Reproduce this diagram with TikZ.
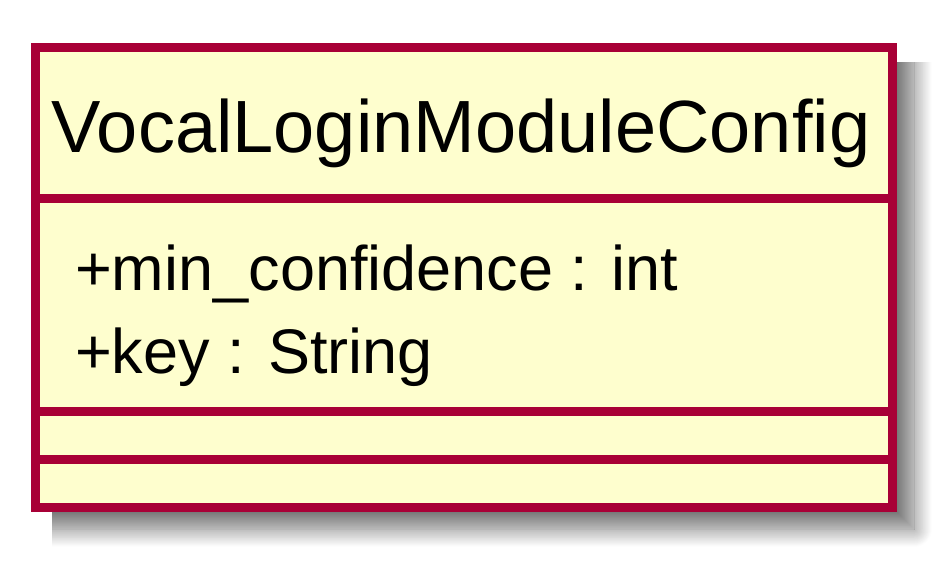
\documentclass[tikz,border=0pt]{standalone}
\usepackage{fontspec}
\setmainfont{Liberation Sans}
\usetikzlibrary{shadows.blur}
\definecolor{umlborder}{HTML}{A80036}
\definecolor{umlfill}{HTML}{FEFECE}
\tikzset{
  classbox/.style={draw=umlborder, line width=9pt, fill=umlfill},
  sepline/.style={draw=umlborder, line width=9pt},
  boxshadow/.style={blur shadow={shadow xshift=0pt, shadow yshift=0pt,
      shadow blur radius=18pt, shadow blur steps=20, shadow opacity=55}},
  titletext/.style={font=\fontsize{74}{80}\selectfont, anchor=base, inner sep=0pt},
  attrtext/.style={font=\fontsize{63}{70}\selectfont, anchor=base west, inner sep=0pt}
}
\begin{document}
\begin{tikzpicture}[x=1pt,y=-1pt]
\useasboundingbox (0,0) rectangle (952,567);
% shadow
\begin{scope}
  \clip (52,63) rectangle (952,567);
  \path[boxshadow] (30,40) rectangle (914,529);
\end{scope}
% class box
\path[classbox] (35.5,47.5) rectangle (892.5,507.5);
\draw[sepline] (31,198.5) -- (897,198.5);
\draw[sepline] (31,411.5) -- (897,411.5);
\draw[sepline] (31,459.5) -- (897,459.5);
\draw[umlborder, line width=9pt] (35.5,47.5) rectangle (892.5,507.5);
\node[titletext] (title) at (461,152.3) {VocalLoginModuleConfig};
\node[attrtext] (attr1) at (75,290.7) {+min\_confidence : int};
\node[attrtext] (attr2) at (75,373.3) {+key : String};
\end{tikzpicture}
\end{document}
